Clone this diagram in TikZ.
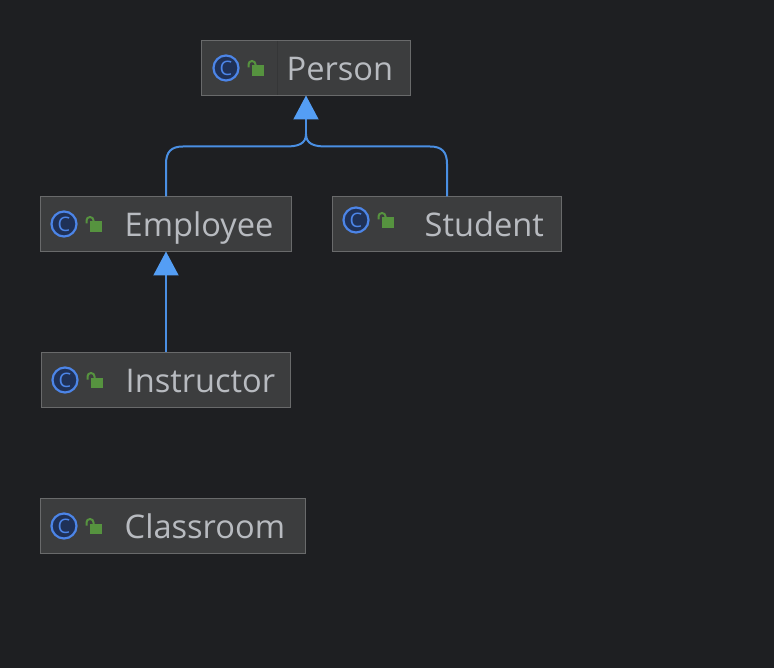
\documentclass[tikz,border=0pt]{standalone}
\usepackage{fontspec}
\setmainfont{Open Sans}
\usetikzlibrary{arrows.meta}
\definecolor{bgc}{HTML}{1E1F22}
\definecolor{boxfill}{HTML}{3C3D3E}
\definecolor{boxline}{HTML}{696A6B}
\definecolor{divc}{HTML}{353637}
\definecolor{labelc}{HTML}{B8BBC0}
\definecolor{iconline}{HTML}{4C85E8}
\definecolor{iconfill}{HTML}{1F3157}
\definecolor{lockc}{HTML}{56933F}
\definecolor{edgec}{HTML}{4A8FE3}
\definecolor{tipc}{HTML}{549EF5}
\tikzset{
  x=1pt,y=-1pt,
  classbox/.style={draw=boxline,fill=boxfill,line width=1pt,minimum height=55pt,inner sep=0pt,outer sep=0pt},
  classicon/.style={circle,draw=iconline,fill=iconfill,line width=2.2pt,minimum size=25pt,inner sep=0pt,outer sep=0pt,text=iconline,font=\fontsize{20}{20}\selectfont},
  classlabel/.style={anchor=base west,inner sep=0pt,text=labelc,font=\fontsize{32.6}{33}\selectfont},
  edge/.style={draw=edgec,line width=2pt},
  inherit/.style={edge,-{Triangle[length=24pt,width=25pt,color=tipc]}},
}
% box: name, left, top, width, label x, text, icon centre x, icon centre y
\newcommand{\classitem}[8]{%
  \node[classbox,minimum width=#4pt,anchor=north west] (#1) at (#2,#3) {};
  \node[classicon] (#1icon) at (#7,#8) {C};
  \fill[lockc] (#7+26,#8-2.5) rectangle (#7+38,#8+8);
  \draw[lockc,line width=2pt] (#7+22.5,#8-0.5) -- (#7+22.5,#8-3.5) arc[start angle=180,end angle=0,radius=3.5pt] -- (#7+29.5,#8-2);
  \node[classlabel] (#1label) at (#5,#3+39.8) {#6};
}
\begin{document}
\begin{tikzpicture}
\useasboundingbox[fill=bgc] (0,0) rectangle (774,668);
\classitem{person}{201.5}{40.5}{209}{286.5}{Person}{226}{68}
\draw[divc,line width=1pt] (277.5,41) -- (277.5,95);
\classitem{employee}{40.5}{196.5}{251}{124.5}{Employee}{64}{224}
\classitem{student}{332.5}{196.5}{229}{424.5}{Student}{356}{220}
\classitem{instructor}{41.5}{352.5}{249}{125.5}{Instructor}{65}{380}
\classitem{classroom}{40.5}{498.5}{265}{124.5}{Classroom}{64}{526}
\coordinate (merge) at (306,134);
\draw[edge] (employee.north) -- (166,164) .. controls (166,152) and (171,146.5) .. (183,146.5) -- (286,146.5) .. controls (298,146.5) and (306,144) .. (merge);
\draw[edge] (student.north) -- (447,164) .. controls (447,152) and (442,146.5) .. (430,146.5) -- (326,146.5) .. controls (314,146.5) and (306,144) .. (merge);
\draw[inherit] (merge) -- (person.south);
\draw[inherit] (instructor.north) -- (employee.south);
\end{tikzpicture}
\end{document}
